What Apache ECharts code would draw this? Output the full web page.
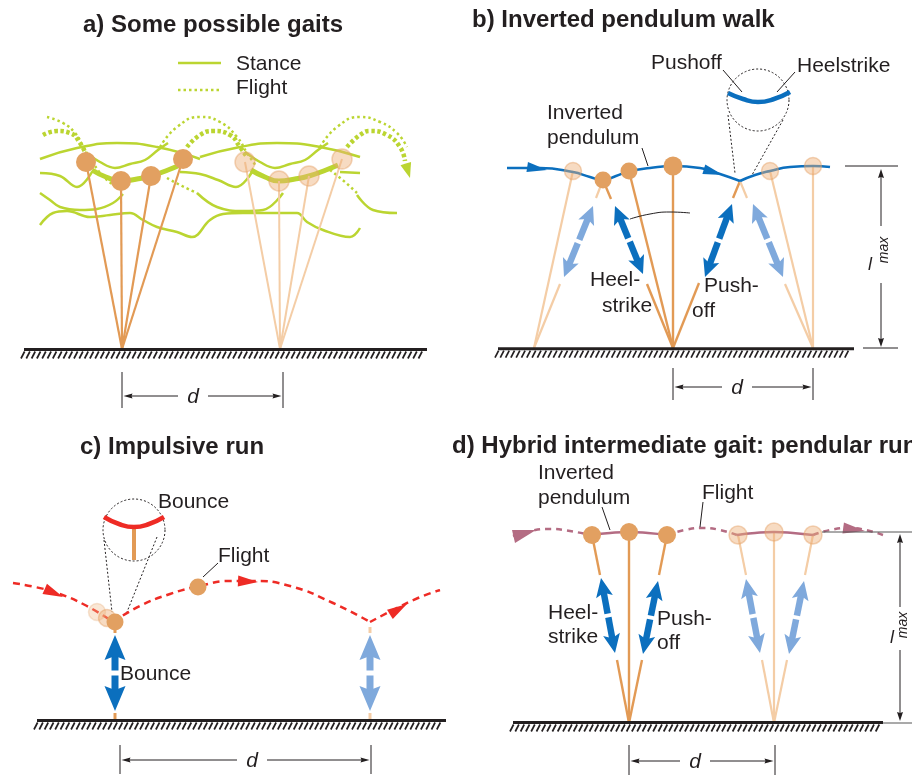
<!DOCTYPE html>
<html><head><meta charset="utf-8">
<script src="https://cdn.jsdelivr.net/npm/echarts@6/dist/echarts.min.js"></script>
<style>html,body{margin:0;padding:0;background:#fff}#c{width:912px;height:776px}</style>
</head><body><div id="c"></div>
<script>
// ===== DATA (diagram units = figure pixels) =====
const titleTexts = ['a) Some possible gaits', 'b) Inverted pendulum walk', 'c) Impulsive run', 'd) Hybrid intermediate gait: pendular run'];
const titleAnchors = [[83, 25], [472, 20], [80, 447.5], [452, 446.5]];

const labelTexts = ['Stance', 'Flight', 'Pushoff', 'Heelstrike', 'Inverted', 'pendulum', 'Heel-', 'strike', 'Push-', 'off',
  'Bounce', 'Flight', 'Bounce', 'Inverted', 'pendulum', 'Flight', 'Heel-', 'strike', 'Push-', 'off'];
const labelAnchors = [[236, 64], [236, 88], [651, 63.5], [797, 66], [547, 113.5], [547, 138.5], [590, 280], [602, 306], [704, 286], [692, 311.5],
  [158, 502], [218, 556], [120, 674.5], [538, 473.5], [538, 498.5], [702, 493], [548, 613], [548, 637], [657, 619.5], [657, 643.5]];

// grounds: [xStart, xEnd, y]
const grounds = [[24, 427, 349.5], [498, 854, 348.7], [37, 446, 720.5], [513, 883, 722.5]];
// step-length dimension: [x1, x2, yArrow, yTop, yBottom, xLabel]
const strideDims = [[122, 283, 396, 372, 408, 193], [673, 813, 387, 368, 400, 737], [120, 371, 760, 745, 774, 252], [629, 775, 761, 745, 775, 695]];

// ---- panel a ----
const aLegendStance = [[178, 63], [221, 63]];
const aLegendFlight = [[178, 90], [221, 90]];
const aStanceArcs = [
  [[40, 159], [77, 148], [117, 143], [157, 147], [200, 159]],
  [[200, 157], [240, 147], [277, 143], [320, 147], [360, 157]]
];
const aStanceWaves = [
  [[85, 152], [100, 162], [115, 168], [130, 164], [145, 160], [158, 150], [168, 143]],
  [[245, 152], [260, 162], [275, 168], [290, 164], [305, 160], [318, 150], [328, 143]],
  [[40, 173], [60, 176], [77, 187], [92, 172]],
  [[180, 172], [200, 174], [218, 180], [236, 187], [252, 172]],
  [[340, 172], [360, 173]],
  [[40, 193], [50, 200], [60, 207], [80, 210], [97, 209], [113, 203], [123, 194]],
  [[197, 193], [217, 207], [243, 211], [263, 210], [283, 193]],
  [[357, 195], [373, 210], [397, 213]],
  [[40, 225], [53, 213], [67, 211], [90, 217], [110, 215], [130, 213], [143, 220], [157, 227], [177, 232], [192, 237], [210, 220], [223, 214], [243, 213], [263, 213], [297, 213], [307, 222], [323, 230], [350, 237], [360, 228]]
];
const aStanceThick = [
  [[92, 170], [106, 177], [121, 181], [137, 179], [151, 176], [168, 170], [180, 165]],
  [[251, 170], [265, 177], [279, 181], [295, 179], [309, 176], [326, 170], [338, 165]]
];
const aFlightThin = [
  [[47, 117], [63, 123], [75, 133], [83, 146], [93, 163], [105, 178], [118, 188]],
  [[160, 147], [177, 127], [200, 117], [220, 122], [237, 137], [247, 153], [256, 166]],
  [[320, 147], [337, 127], [360, 117], [380, 122], [397, 133], [407, 147]],
  [[167, 178], [182, 186], [197, 193]],
  [[330, 170], [345, 182], [357, 193]]
];
const aFlightThick = [
  [[43, 135], [57, 131], [70, 133], [80, 143], [87, 157]],
  [[187, 147], [200, 135], [213, 131], [230, 135], [240, 147], [247, 157]],
  [[347, 147], [360, 135], [370, 131], [387, 135], [400, 147], [405, 161]]
];
const aFlightHead = [[405, 161, 410, 178]];
const aFeet = [[122, 349], [280, 349]];
const aMassSolid = [[86, 162], [121, 181], [151, 176], [183, 159]];
const aMassFaded = [[245, 162], [279, 181], [309, 176], [342, 159]];

// ---- panel b ----
const bPathLeft = [[507, 168], [540, 168], [573, 172], [590, 177], [603, 180], [616, 176], [630, 171], [650, 168], [673, 166], [700, 168], [720, 174], [740, 181]];
const bPathRight = [[740, 181], [755, 175], [770, 171], [790, 167], [813, 166], [830, 167]];
const bPathHeads = [[527, 167, 547, 170], [703, 169, 723, 175]];
const bMassSolid = [[603, 180], [629, 171]];
const bMassTop = [[673, 166]];
const bMassFaded = [[573, 171], [770, 171], [813, 166]];
const bLegsSolid = [[603, 180, 611, 199], [647, 284, 673, 348], [629, 171, 673, 348], [673, 166, 673, 348], [740, 181, 733, 198], [699, 283, 673, 348]];
const bLegsFaded = [[573, 171, 534, 348], [603, 180, 596, 198], [560, 284, 534, 348], [740, 181, 747, 198], [785, 284, 813, 348], [770, 171, 813, 348], [813, 166, 813, 348]];
const bForceDark = [[615, 206, 643, 274], [732, 204, 705, 277]];
const bForceLight = [[593, 206, 564, 277], [753, 204, 783, 277]];
const bZoomArc = [[728, 93], [743, 99], [758, 102], [774, 99], [790, 92]];
const bZoomCircle = [[758, 100, 31]];
const bZoomRays = [[728, 115, 735, 173], [783, 120, 752, 175]];
const bLeaders = [[642, 148, 648, 166], [723, 70, 742, 92], [795, 72, 777, 92]];
const bSwingCurve = [[630, 219], [650, 214], [670, 212], [690, 213]];
const bLmaxLines = [[845, 166, 898, 166], [863, 348, 898, 348]];
const bLmaxArrows = [[881, 226, 881, 169], [881, 283, 881, 347]];

// ---- panel c ----
const cPath = [[13, 583], [35, 587], [57, 593], [85, 605], [113, 622]];
const cPath2 = [[113, 622], [140, 606], [170, 594], [200, 586], [230, 581], [253, 581], [290, 586], [333, 603], [370, 622]];
const cPath3 = [[370, 622], [395, 609], [418, 598], [440, 590]];
const cPathHeads = [[45, 589, 63, 597], [236, 581, 258, 582], [389, 615, 407, 604]];
const cGhost1 = [[97, 612]];
const cGhost2 = [[107, 618]];
const cMassSolid = [[115, 622], [198, 587]];
const cStubsSolid = [[115, 627, 115, 633], [115, 713, 115, 719]];
const cStubsFaded = [[370, 627, 370, 633], [370, 713, 370, 719]];
const cForceDark = [[115, 635, 115, 711]];
const cForceLight = [[370, 635, 370, 711]];
const cZoomArc = [[104, 517], [119, 524], [134, 527], [149, 524], [164, 517]];
const cZoomStem = [[134, 529, 134, 560]];
const cZoomCircle = [[134, 530, 31]];
const cZoomRays = [[104, 540, 112, 612], [157, 537, 127, 612]];
const cLeaders = [[218, 563, 203, 577]];

// ---- panel d ----
const dFlight = [
  [[513, 536], [530, 531], [550, 529], [570, 531], [590, 535]],
  [[667, 535], [685, 530], [703, 528], [720, 530], [737, 535]],
  [[813, 535], [830, 530], [850, 528], [866, 530], [883, 535]]
];
const dStance = [
  [[592, 535], [610, 533], [629, 532], [648, 533], [667, 535]],
  [[737, 535], [755, 533], [774, 532], [793, 533], [813, 535]]
];
const dHeadLeft = [[[512, 530], [536, 530], [515, 543]]];
const dHeadRight = [[843, 528, 865, 531]];
const dMassSolid = [[592, 535], [629, 532], [667, 535]];
const dMassFaded = [[738, 535], [774, 532], [813, 535]];
const dLegsSolid = [[592, 535, 600, 575], [617, 660, 629, 723], [629, 532, 629, 723], [667, 535, 659, 575], [642, 660, 629, 723]];
const dLegsFaded = [[738, 535, 746, 575], [762, 660, 774, 723], [774, 532, 774, 723], [813, 535, 805, 575], [787, 660, 774, 723]];
const dForceDark = [[601, 578, 615, 653], [658, 581, 643, 654]];
const dForceLight = [[746, 579, 760, 653], [804, 581, 789, 654]];
const dLeaders = [[602, 507, 610, 530], [703, 502, 700, 527]];
const dLmaxLines = [[822, 532, 912, 532], [883, 723, 912, 723]];
const dLmaxArrows = [[900, 607, 900, 534], [900, 650, 900, 721]];

const lmaxL = [[870, 265], [892, 638]];
const lmaxSub = [[884.5, 250], [903, 625]];

// ===== STYLE =====
const FONT = '"Liberation Sans", Arial, Helvetica, sans-serif';
const INK = '#231F20';
const GREEN = '#BBD531';
const ORANGE = '#E2A061';
const LEG = '#E29A55';
const FLEG = '#F4CDA6';
const FFILL = 'rgba(238,176,120,0.45)';
const FBORDER = 'rgba(228,160,100,0.45)';
const DARK = '#0B6FBE';
const LIGHT = '#7FA9DC';
const RED = '#EE2B25';
const MAUVE = '#B46C83';

// ===== helpers =====
function curve(pts, color, width, dash, smooth, z) {
  return { type: 'line', data: pts, smooth: smooth == null ? 0.5 : smooth, symbol: 'none', silent: true, z: z || 2,
    lineStyle: { color: color, width: width, type: dash || 'solid', cap: 'butt', join: 'round' } };
}
function segs(items, color, width, dash, z) {
  return { type: 'custom', coordinateSystem: 'cartesian2d', silent: true, z: z || 3, data: items, encode: { x: [0, 2], y: [1, 3] },
    renderItem: function (p, api) {
      const a = api.coord([api.value(0), api.value(1)]), b = api.coord([api.value(2), api.value(3)]);
      return { type: 'line', shape: { x1: a[0], y1: a[1], x2: b[0], y2: b[1] }, style: { stroke: color, lineWidth: width, lineDash: dash || null, lineCap: 'butt' } };
    } };
}
function headPts(tx, ty, ux, uy, len, wid, notch) {
  const bx = tx - ux * len, by = ty - uy * len, nx = -uy, ny = ux;
  return [[tx, ty], [bx + nx * wid / 2, by + ny * wid / 2], [bx + ux * notch, by + uy * notch], [bx - nx * wid / 2, by - ny * wid / 2]];
}
function arrowChildren(a, b, color, shaft, len, wid, notch) {
  const dx = b[0] - a[0], dy = b[1] - a[1], L = Math.hypot(dx, dy), ux = dx / L, uy = dy / L;
  const ch = [];
  if (shaft > 0) {
    const k = Math.max(len - notch - 1, 0);
    ch.push({ type: 'line', shape: { x1: a[0], y1: a[1], x2: b[0] - ux * k, y2: b[1] - uy * k }, style: { stroke: color, lineWidth: shaft, lineCap: 'butt' } });
  }
  ch.push({ type: 'polygon', shape: { points: headPts(b[0], b[1], ux, uy, len, wid, notch) }, style: { fill: color } });
  return ch;
}
function arrows(items, color, shaft, len, wid, notch, z) {
  return { type: 'custom', coordinateSystem: 'cartesian2d', silent: true, z: z || 6, data: items, encode: { x: [0, 2], y: [1, 3] },
    renderItem: function (p, api) {
      const a = api.coord([api.value(0), api.value(1)]), b = api.coord([api.value(2), api.value(3)]);
      return { type: 'group', children: arrowChildren(a, b, color, shaft, len, wid, notch) };
    } };
}
function doubleArrows(items, color, shaft, len, wid, gap, z) {
  return { type: 'custom', coordinateSystem: 'cartesian2d', silent: true, z: z || 6, data: items, encode: { x: [0, 2], y: [1, 3] },
    renderItem: function (p, api) {
      const a = api.coord([api.value(0), api.value(1)]), b = api.coord([api.value(2), api.value(3)]);
      const dx = b[0] - a[0], dy = b[1] - a[1], L = Math.hypot(dx, dy), ux = dx / L, uy = dy / L;
      const mx = (a[0] + b[0]) / 2, my = (a[1] + b[1]) / 2;
      const m1 = [mx - ux * gap / 2, my - uy * gap / 2], m2 = [mx + ux * gap / 2, my + uy * gap / 2];
      return { type: 'group', children: arrowChildren(m1, a, color, shaft, len, wid, 4).concat(arrowChildren(m2, b, color, shaft, len, wid, 4)) };
    } };
}
function masses(pts, r, fill, border, z) {
  return { type: 'scatter', data: pts, symbol: 'circle', symbolSize: 2 * r, silent: true, z: z || 5,
    itemStyle: { color: fill, borderColor: border || fill, borderWidth: border ? 1.5 : 0, opacity: 1 } };
}
function texts(anchors, strs, font, color, align, rotation, z) {
  return { type: 'custom', coordinateSystem: 'cartesian2d', silent: true, z: z || 10, data: anchors, encode: { x: 0, y: 1 },
    renderItem: function (p, api) {
      const c = api.coord([api.value(0), api.value(1)]);
      return { type: 'text', x: c[0], y: c[1], rotation: rotation || 0,
        style: { text: strs[p.dataIndex], font: font, fill: color || INK, align: align || 'left', verticalAlign: 'middle' } };
    } };
}
function circles(items, color, z) {
  return { type: 'custom', coordinateSystem: 'cartesian2d', silent: true, z: z || 4, data: items, encode: { x: 0, y: 1 },
    renderItem: function (p, api) {
      const c = api.coord([api.value(0), api.value(1)]); const r = api.size([api.value(2), 0])[0];
      return { type: 'circle', shape: { cx: c[0], cy: c[1], r: r }, style: { fill: 'none', stroke: color, lineWidth: 1, lineDash: [2, 2] } };
    } };
}
function polygons(items, color, z) {
  return { type: 'custom', coordinateSystem: 'cartesian2d', silent: true, z: z || 6, data: items.map(function (p, i) { return [p[0][0], p[0][1], i]; }), encode: { x: 0, y: 1 },
    renderItem: function (p, api) {
      return { type: 'polygon', shape: { points: items[p.dataIndex].map(function (q) { return api.coord(q); }) }, style: { fill: color } };
    } };
}
const groundSeries = { type: 'custom', coordinateSystem: 'cartesian2d', silent: true, z: 8, data: grounds, encode: { x: [0, 1], y: 2 },
  renderItem: function (p, api) {
    const a = api.coord([api.value(0), api.value(2)]), b = api.coord([api.value(1), api.value(2)]);
    const ch = [{ type: 'line', shape: { x1: a[0], y1: a[1], x2: b[0], y2: b[1] }, style: { stroke: INK, lineWidth: 3 } }];
    for (let x = a[0] - 3; x < b[0] - 4; x += 5.3) {
      ch.push({ type: 'line', shape: { x1: x, y1: a[1] + 9, x2: x + 3.6, y2: a[1] + 2 }, style: { stroke: INK, lineWidth: 1.7 } });
    }
    return { type: 'group', children: ch };
  } };
const dimSeries = { type: 'custom', coordinateSystem: 'cartesian2d', silent: true, z: 8, data: strideDims, encode: { x: [0, 1], y: [2, 3, 4] },
  renderItem: function (p, api) {
    const x1 = api.value(0), x2 = api.value(1), y = api.value(2), yt = api.value(3), yb = api.value(4), xt = api.value(5);
    const P = function (x, yy) { return api.coord([x, yy]); };
    const ch = [];
    [x1, x2].forEach(function (x) { const a = P(x, yt), b = P(x, yb); ch.push({ type: 'line', shape: { x1: a[0], y1: a[1], x2: b[0], y2: b[1] }, style: { stroke: INK, lineWidth: 1 } }); });
    const c = P(xt, y);
    Array.prototype.push.apply(ch, arrowChildren([c[0] - 15, c[1]], P(x1 + 1.5, y), INK, 1, 9, 5, 1));
    Array.prototype.push.apply(ch, arrowChildren([c[0] + 15, c[1]], P(x2 - 1.5, y), INK, 1, 9, 5, 1));
    ch.push({ type: 'text', x: c[0], y: c[1] + 1, style: { text: 'd', font: 'italic 21px ' + FONT, fill: INK, align: 'center', verticalAlign: 'middle' } });
    return { type: 'group', children: ch };
  } };

function legsFrom(feet, groups) { // leg segments from each foot to its masses
  const out = [];
  groups.forEach(function (g, i) { g.forEach(function (m) { out.push([feet[i][0], feet[i][1], m[0], m[1]]); }); });
  return out;
}

const series = [];
// panel a
series.push(curve(aLegendStance, GREEN, 2.5, 'solid', 0, 2));
series.push(curve(aLegendFlight, GREEN, 2.5, [2.5, 3], 0, 2));
aStanceArcs.forEach(function (c) { series.push(curve(c, GREEN, 2.5, 'solid', 0.5, 2)); });
aStanceWaves.forEach(function (c) { series.push(curve(c, GREEN, 2.5, 'solid', 0.4, 2)); });
aStanceThick.forEach(function (c) { series.push(curve(c, GREEN, 5, 'solid', 0.5, 2)); });
aFlightThin.forEach(function (c) { series.push(curve(c, GREEN, 2.5, [2.5, 3], 0.5, 2)); });
aFlightThick.forEach(function (c) { series.push(curve(c, GREEN, 4.5, [3.5, 2.5], 0.5, 2)); });
series.push(arrows(aFlightHead, GREEN, 0, 15, 11, 0, 3));
series.push(segs(legsFrom([aFeet[0]], [aMassSolid]), LEG, 2.2, null, 3));
series.push(segs(legsFrom([aFeet[1]], [aMassFaded]), FLEG, 2, null, 3));
series.push(masses(aMassSolid, 10, ORANGE, null, 5));
series.push(masses(aMassFaded, 10, FFILL, FBORDER, 5));

// panel b
series.push(segs(bLegsSolid, LEG, 2.4, null, 3));
series.push(segs(bLegsFaded, FLEG, 2.2, null, 3));
series.push(curve(bPathLeft, DARK, 2.5, 'solid', 0.5, 4));
series.push(curve(bPathRight, DARK, 2.5, 'solid', 0.5, 4));
series.push(arrows(bPathHeads, DARK, 0, 20, 10, 0, 6));
series.push(masses(bMassSolid, 8.5, ORANGE, null, 5));
series.push(masses(bMassTop, 9.5, ORANGE, null, 5));
series.push(masses(bMassFaded, 8.5, FFILL, FBORDER, 5));
series.push(doubleArrows(bForceDark, DARK, 6.5, 18, 17, 4, 6));
series.push(doubleArrows(bForceLight, LIGHT, 6.5, 18, 17, 4, 6));
series.push(circles(bZoomCircle, INK, 4));
series.push(segs(bZoomRays, INK, 1, [2, 2], 4));
series.push(curve(bZoomArc, DARK, 4.5, 'solid', 0.5, 5));
series.push(segs(bLeaders, INK, 1, null, 7));
series.push(curve(bSwingCurve, INK, 1, 'solid', 0.5, 7));
series.push(segs(bLmaxLines, INK, 1, null, 7));
series.push(arrows(bLmaxArrows, INK, 1, 9, 6, 1, 7));

// panel c
series.push(curve(cPath, RED, 2.5, [7, 5], 0.5, 4));
series.push(curve(cPath2, RED, 2.5, [7, 5], 0.5, 4));
series.push(curve(cPath3, RED, 2.5, [7, 5], 0.5, 4));
series.push(arrows(cPathHeads, RED, 0, 20, 11, 0, 6));
series.push(masses(cGhost1, 8.5, 'rgba(240,185,135,0.35)', 'rgba(230,170,115,0.3)', 5));
series.push(masses(cGhost2, 8.5, FFILL, FBORDER, 5));
series.push(masses(cMassSolid, 8.5, ORANGE, null, 5));
series.push(segs(cStubsSolid, LEG, 3, null, 3));
series.push(segs(cStubsFaded, FLEG, 3, null, 3));
series.push(doubleArrows(cForceDark, DARK, 7, 25, 21, 5, 6));
series.push(doubleArrows(cForceLight, LIGHT, 7, 25, 21, 5, 6));
series.push(circles(cZoomCircle, INK, 4));
series.push(segs(cZoomRays, INK, 1, [2, 2], 4));
series.push(curve(cZoomArc, RED, 4.5, 'solid', 0.5, 5));
series.push(segs(cZoomStem, LEG, 4, null, 5));
series.push(segs(cLeaders, INK, 1, null, 7));

// panel d
series.push(segs(dLegsSolid, LEG, 2.4, null, 3));
series.push(segs(dLegsFaded, FLEG, 2.2, null, 3));
dFlight.forEach(function (c) { series.push(curve(c, MAUVE, 2.5, [6, 5], 0.5, 4)); });
dStance.forEach(function (c) { series.push(curve(c, MAUVE, 2.5, 'solid', 0.5, 4)); });
series.push(polygons(dHeadLeft, MAUVE, 6));
series.push(arrows(dHeadRight, MAUVE, 0, 22, 11, 0, 6));
series.push(masses(dMassSolid, 9, ORANGE, null, 5));
series.push(masses(dMassFaded, 9, FFILL, FBORDER, 5));
series.push(doubleArrows(dForceDark, DARK, 6.5, 19, 17, 4, 6));
series.push(doubleArrows(dForceLight, LIGHT, 6.5, 19, 17, 4, 6));
series.push(segs(dLeaders, INK, 1, null, 7));
series.push(segs(dLmaxLines, '#555', 1, null, 7));
series.push(arrows(dLmaxArrows, INK, 1, 9, 6, 1, 7));

// common
series.push(groundSeries);
series.push(dimSeries);
series.push(texts(titleAnchors, titleTexts, 'bold 24px ' + FONT, INK, 'left', 0, 10));
series.push(texts(labelAnchors, labelTexts, '21px ' + FONT, INK, 'left', 0, 10));
series.push(texts(lmaxL, ['l', 'l'], 'italic 18px ' + FONT, INK, 'center', 0, 10));
series.push(texts(lmaxSub, ['max', 'max'], 'italic 14px ' + FONT, INK, 'center', Math.PI / 2, 10));

const chart = echarts.init(document.getElementById('c'), null, { renderer: 'canvas' });
chart.setOption({
  animation: false,
  backgroundColor: '#fff',
  grid: { left: 0, right: 0, top: 0, bottom: 0 },
  xAxis: { type: 'value', min: 0, max: 912, show: false },
  yAxis: { type: 'value', min: 0, max: 776, inverse: true, show: false },
  tooltip: { show: false },
  series: series
});
</script></body></html>
